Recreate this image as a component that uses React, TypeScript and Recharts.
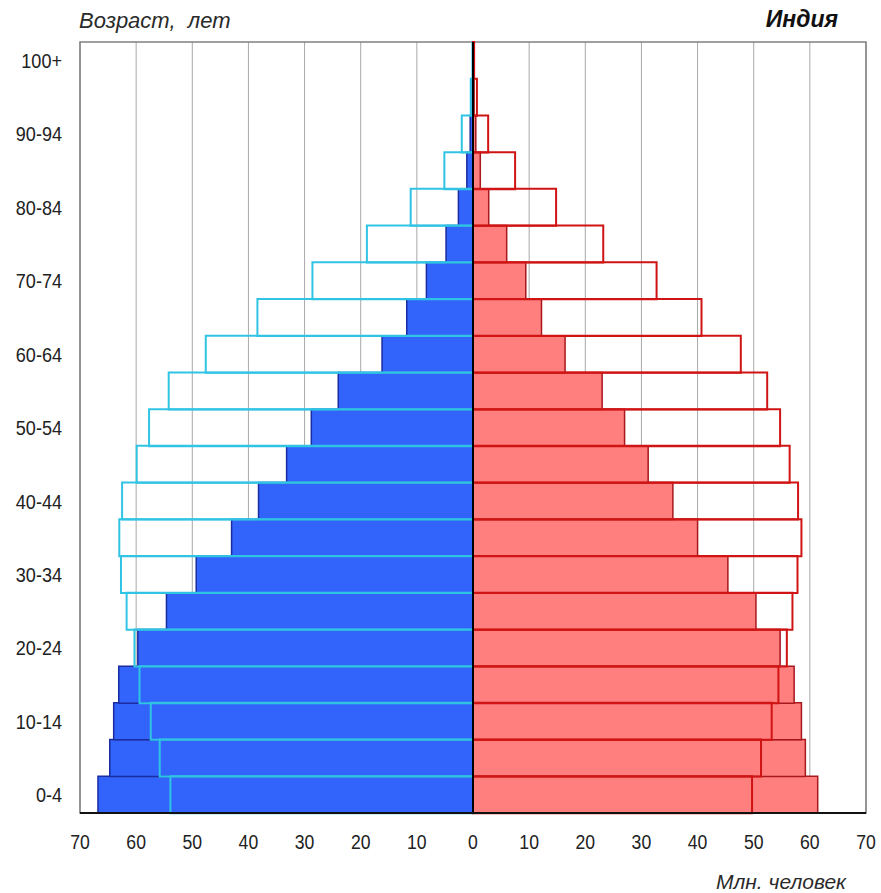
import React from "react";
import {
  BarChart,
  Bar,
  XAxis,
  YAxis,
  CartesianGrid,
  ReferenceLine,
  ReferenceArea,
} from "recharts";

// Age groups, bottom (0-4) to top (100+)
const ageGroups = [
  "0-4", "5-9", "10-14", "15-19", "20-24", "25-29", "30-34", "35-39", "40-44",
  "45-49", "50-54", "55-59", "60-64", "65-69", "70-74", "75-79", "80-84",
  "85-89", "90-94", "95-99", "100+",
];

// Current population (filled bars), millions
const malesNow = [
  66.8, 64.7, 64.0, 63.1, 59.7, 54.6, 49.3, 43.0, 38.2, 33.2, 28.8, 24.0,
  16.2, 11.8, 8.3, 4.8, 2.6, 1.1, 0.5, 0.15, 0.05,
];
const femalesNow = [
  61.4, 59.2, 58.5, 57.2, 54.7, 50.4, 45.4, 40.0, 35.6, 31.2, 27.0, 23.0,
  16.4, 12.2, 9.4, 6.0, 2.8, 1.3, 0.5, 0.2, 0.05,
];

// Projected population (outlined bars), millions
const malesFuture = [
  53.9, 55.8, 57.4, 59.4, 60.3, 61.7, 62.7, 63.0, 62.5, 59.9, 57.7, 54.2,
  47.6, 38.4, 28.6, 18.9, 11.1, 5.1, 2.0, 0.4, 0.1,
];
const femalesFuture = [
  49.7, 51.3, 53.2, 54.4, 55.9, 56.9, 57.8, 58.5, 57.9, 56.4, 54.7, 52.4,
  47.7, 40.7, 32.7, 23.2, 14.8, 7.5, 2.7, 0.7, 0.2,
];

const xTicks = [-70, -60, -50, -40, -30, -20, -10, 0, 10, 20, 30, 40, 50, 60, 70];

const data = ageGroups.map((age, i) => ({
  age,
  maleNow: -malesNow[i],
  femaleNow: femalesNow[i],
  maleFuture: -malesFuture[i],
  femaleFuture: femalesFuture[i],
}));

const sans = "'Liberation Sans', Arial, sans-serif";

const XTick = (props: any) => {
  const { x, y, payload } = props;
  return (
    <g transform={`translate(${x},${y})`}>
      <text
        transform="scale(0.84,1)"
        textAnchor="middle"
        dy="0.72em"
        fontFamily={sans}
        fontSize={21}
        fill="#222"
      >
        {String(Math.abs(payload.value))}
      </text>
    </g>
  );
};

const YTick = (props: any) => {
  const { x, y, payload } = props;
  return (
    <g transform={`translate(${x},${y})`}>
      <text
        transform="scale(0.86,1)"
        textAnchor="end"
        dy="0.36em"
        fontFamily={sans}
        fontSize={21}
        fill="#222"
      >
        {payload.value}
      </text>
    </g>
  );
};

export default function App() {
  return (
    <div
      style={{
        position: "absolute",
        left: 0,
        top: 0,
        width: 881,
        height: 893,
        background: "#fff",
        overflow: "hidden",
      }}
    >
      <div
        style={{
          position: "absolute",
          left: 79,
          top: 10,
          fontFamily: sans,
          fontStyle: "italic",
          fontSize: 22,
          lineHeight: "22px",
          color: "#2a2a2a",
          whiteSpace: "pre",
        }}
      >
        {"Возраст,  лет"}
      </div>
      <div
        style={{
          position: "absolute",
          right: 43,
          top: 8,
          fontFamily: sans,
          fontStyle: "italic",
          fontWeight: "bold",
          fontSize: 23,
          lineHeight: "22px",
          color: "#111",
        }}
      >
        Индия
      </div>
      <div
        style={{
          position: "absolute",
          right: 35,
          top: 871,
          fontFamily: sans,
          fontStyle: "italic",
          fontSize: 21,
          lineHeight: "21px",
          color: "#2a2a2a",
        }}
      >
        Млн. человек
      </div>
      <BarChart
        width={881}
        height={893}
        data={data}
        layout="vertical"
        margin={{ top: 42, right: 15, bottom: 50, left: 0 }}
        barCategoryGap={0}
        barGap={0}
        stackOffset="sign"
        style={{ position: "absolute", left: 0, top: 0 }}
      >
        <CartesianGrid horizontal={false} stroke="#a8a8a8" yAxisId="a" />
        <XAxis
          type="number"
          domain={[-70, 70]}
          ticks={xTicks}
          allowDataOverflow
          axisLine={{ stroke: "#111", strokeWidth: 2 }}
          tickLine={false}
          tickMargin={15}
          height={30}
          tick={<XTick />}
        />
        <YAxis
          yAxisId="a"
          type="category"
          dataKey="age"
          reversed
          interval={1}
          width={80}
          axisLine={false}
          tickLine={false}
          tickMargin={12}
          tick={<YTick />}
        />
        <YAxis yAxisId="b" type="category" dataKey="age" reversed hide />
        <Bar
          yAxisId="a"
          dataKey="maleNow"
          stackId="now"
          fill="#3264fc"
          stroke="#1b2ca0"
          strokeWidth={1.5}
          isAnimationActive={false}
        />
        <Bar
          yAxisId="a"
          dataKey="femaleNow"
          stackId="now"
          fill="#ff7e7e"
          stroke="#a8181c"
          strokeWidth={1.5}
          isAnimationActive={false}
        />
        <Bar
          yAxisId="b"
          dataKey="maleFuture"
          stackId="future"
          fill="none"
          stroke="#30c4e4"
          strokeWidth={2}
          isAnimationActive={false}
        />
        <Bar
          yAxisId="b"
          dataKey="femaleFuture"
          stackId="future"
          fill="none"
          stroke="#d01414"
          strokeWidth={2}
          isAnimationActive={false}
        />
        <ReferenceArea
          yAxisId="a"
          x1={-70}
          x2={70}
          fill="none"
          stroke="#808080"
          strokeWidth={1.5}
          ifOverflow="visible"
        />
        <ReferenceLine yAxisId="a" x={0} stroke="#000" strokeWidth={2} />
      </BarChart>
    </div>
  );
}
